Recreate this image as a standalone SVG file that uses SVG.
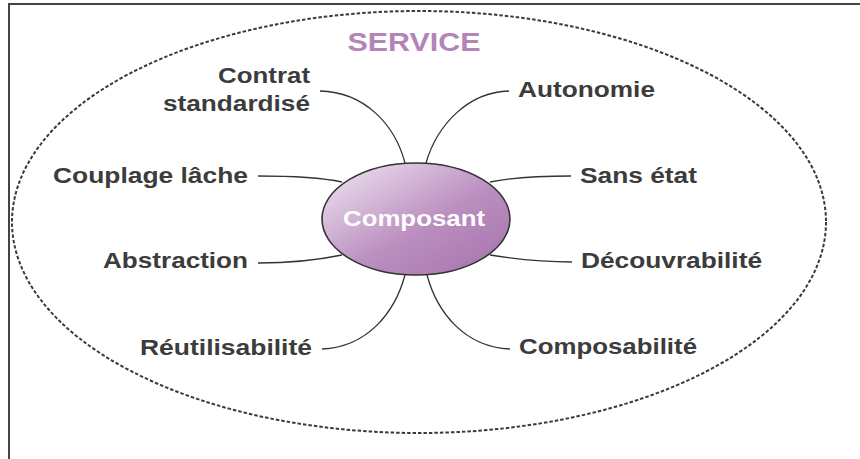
<svg xmlns="http://www.w3.org/2000/svg" width="860" height="459" viewBox="0 0 860 459">
<defs>
<linearGradient id="g" x1="0" y1="0" x2="1" y2="1">
<stop offset="0" stop-color="#f3e9f4"/>
<stop offset="0.55" stop-color="#bb8fc0"/>
<stop offset="1" stop-color="#a571ab"/>
</linearGradient>
<style>
.lbl{font-family:"Liberation Sans",Arial,sans-serif;font-weight:bold;font-size:22px;fill:#3c3c3c}
.con{fill:none;stroke:#333;stroke-width:1.3}
</style>
</defs>
<rect width="860" height="459" fill="#fff"/>
<g id="frame">
<path d="M9,459 V4 H860" fill="none" stroke="#444" stroke-width="2"/>
</g>
<g id="service">
<ellipse cx="419" cy="222" rx="407" ry="211" fill="none" stroke="#3a3a3a" stroke-width="2" stroke-dasharray="3.5,2"/>
<text x="414" y="51" text-anchor="middle" font-family="Liberation Sans,Arial,sans-serif" font-weight="bold" font-size="25" fill="#b484b9" textLength="133" lengthAdjust="spacingAndGlyphs">SERVICE</text>
</g>
<g id="connectors">
<path class="con" d="M320,91 C365,92 395,125 405,163"/>
<path class="con" d="M509,91 C468,92 437,125 426,163"/>
<path class="con" d="M258,176 C290,176 318,177 342,182"/>
<path class="con" d="M571,176 C540,176 515,177 490,182"/>
<path class="con" d="M258,263 C290,263 318,260 342,255"/>
<path class="con" d="M572,262 C540,262 515,259 490,255"/>
<path class="con" d="M322,349 C368,347 395,312 405,275"/>
<path class="con" d="M510,349 C464,347 437,312 427,275"/>
</g>
<g id="composant">
<ellipse cx="416" cy="219" rx="94" ry="56" fill="url(#g)" stroke="#333" stroke-width="1.6"/>
<text x="343" y="226" class="lbl" style="fill:#fff" textLength="142" lengthAdjust="spacingAndGlyphs">Composant</text>
</g>
<g id="contrat"><text class="lbl"><tspan x="218" y="83" textLength="92" lengthAdjust="spacingAndGlyphs">Contrat</tspan></text><text class="lbl"><tspan x="163" y="111" textLength="147" lengthAdjust="spacingAndGlyphs">standardisé</tspan></text></g>
<g id="couplage"><text class="lbl" x="53" y="183" textLength="195" lengthAdjust="spacingAndGlyphs">Couplage lâche</text></g>
<g id="abstraction"><text class="lbl" x="103" y="268" textLength="145" lengthAdjust="spacingAndGlyphs">Abstraction</text></g>
<g id="reutilisabilite"><text class="lbl" x="140" y="355" textLength="172" lengthAdjust="spacingAndGlyphs">Réutilisabilité</text></g>
<g id="autonomie"><text class="lbl" x="518" y="97" textLength="137" lengthAdjust="spacingAndGlyphs">Autonomie</text></g>
<g id="sansetat"><text class="lbl" x="580" y="183" textLength="117" lengthAdjust="spacingAndGlyphs">Sans état</text></g>
<g id="decouvrabilite"><text class="lbl" x="581" y="268" textLength="181" lengthAdjust="spacingAndGlyphs">Découvrabilité</text></g>
<g id="composabilite"><text class="lbl" x="519" y="354" textLength="178" lengthAdjust="spacingAndGlyphs">Composabilité</text></g>
</svg>
